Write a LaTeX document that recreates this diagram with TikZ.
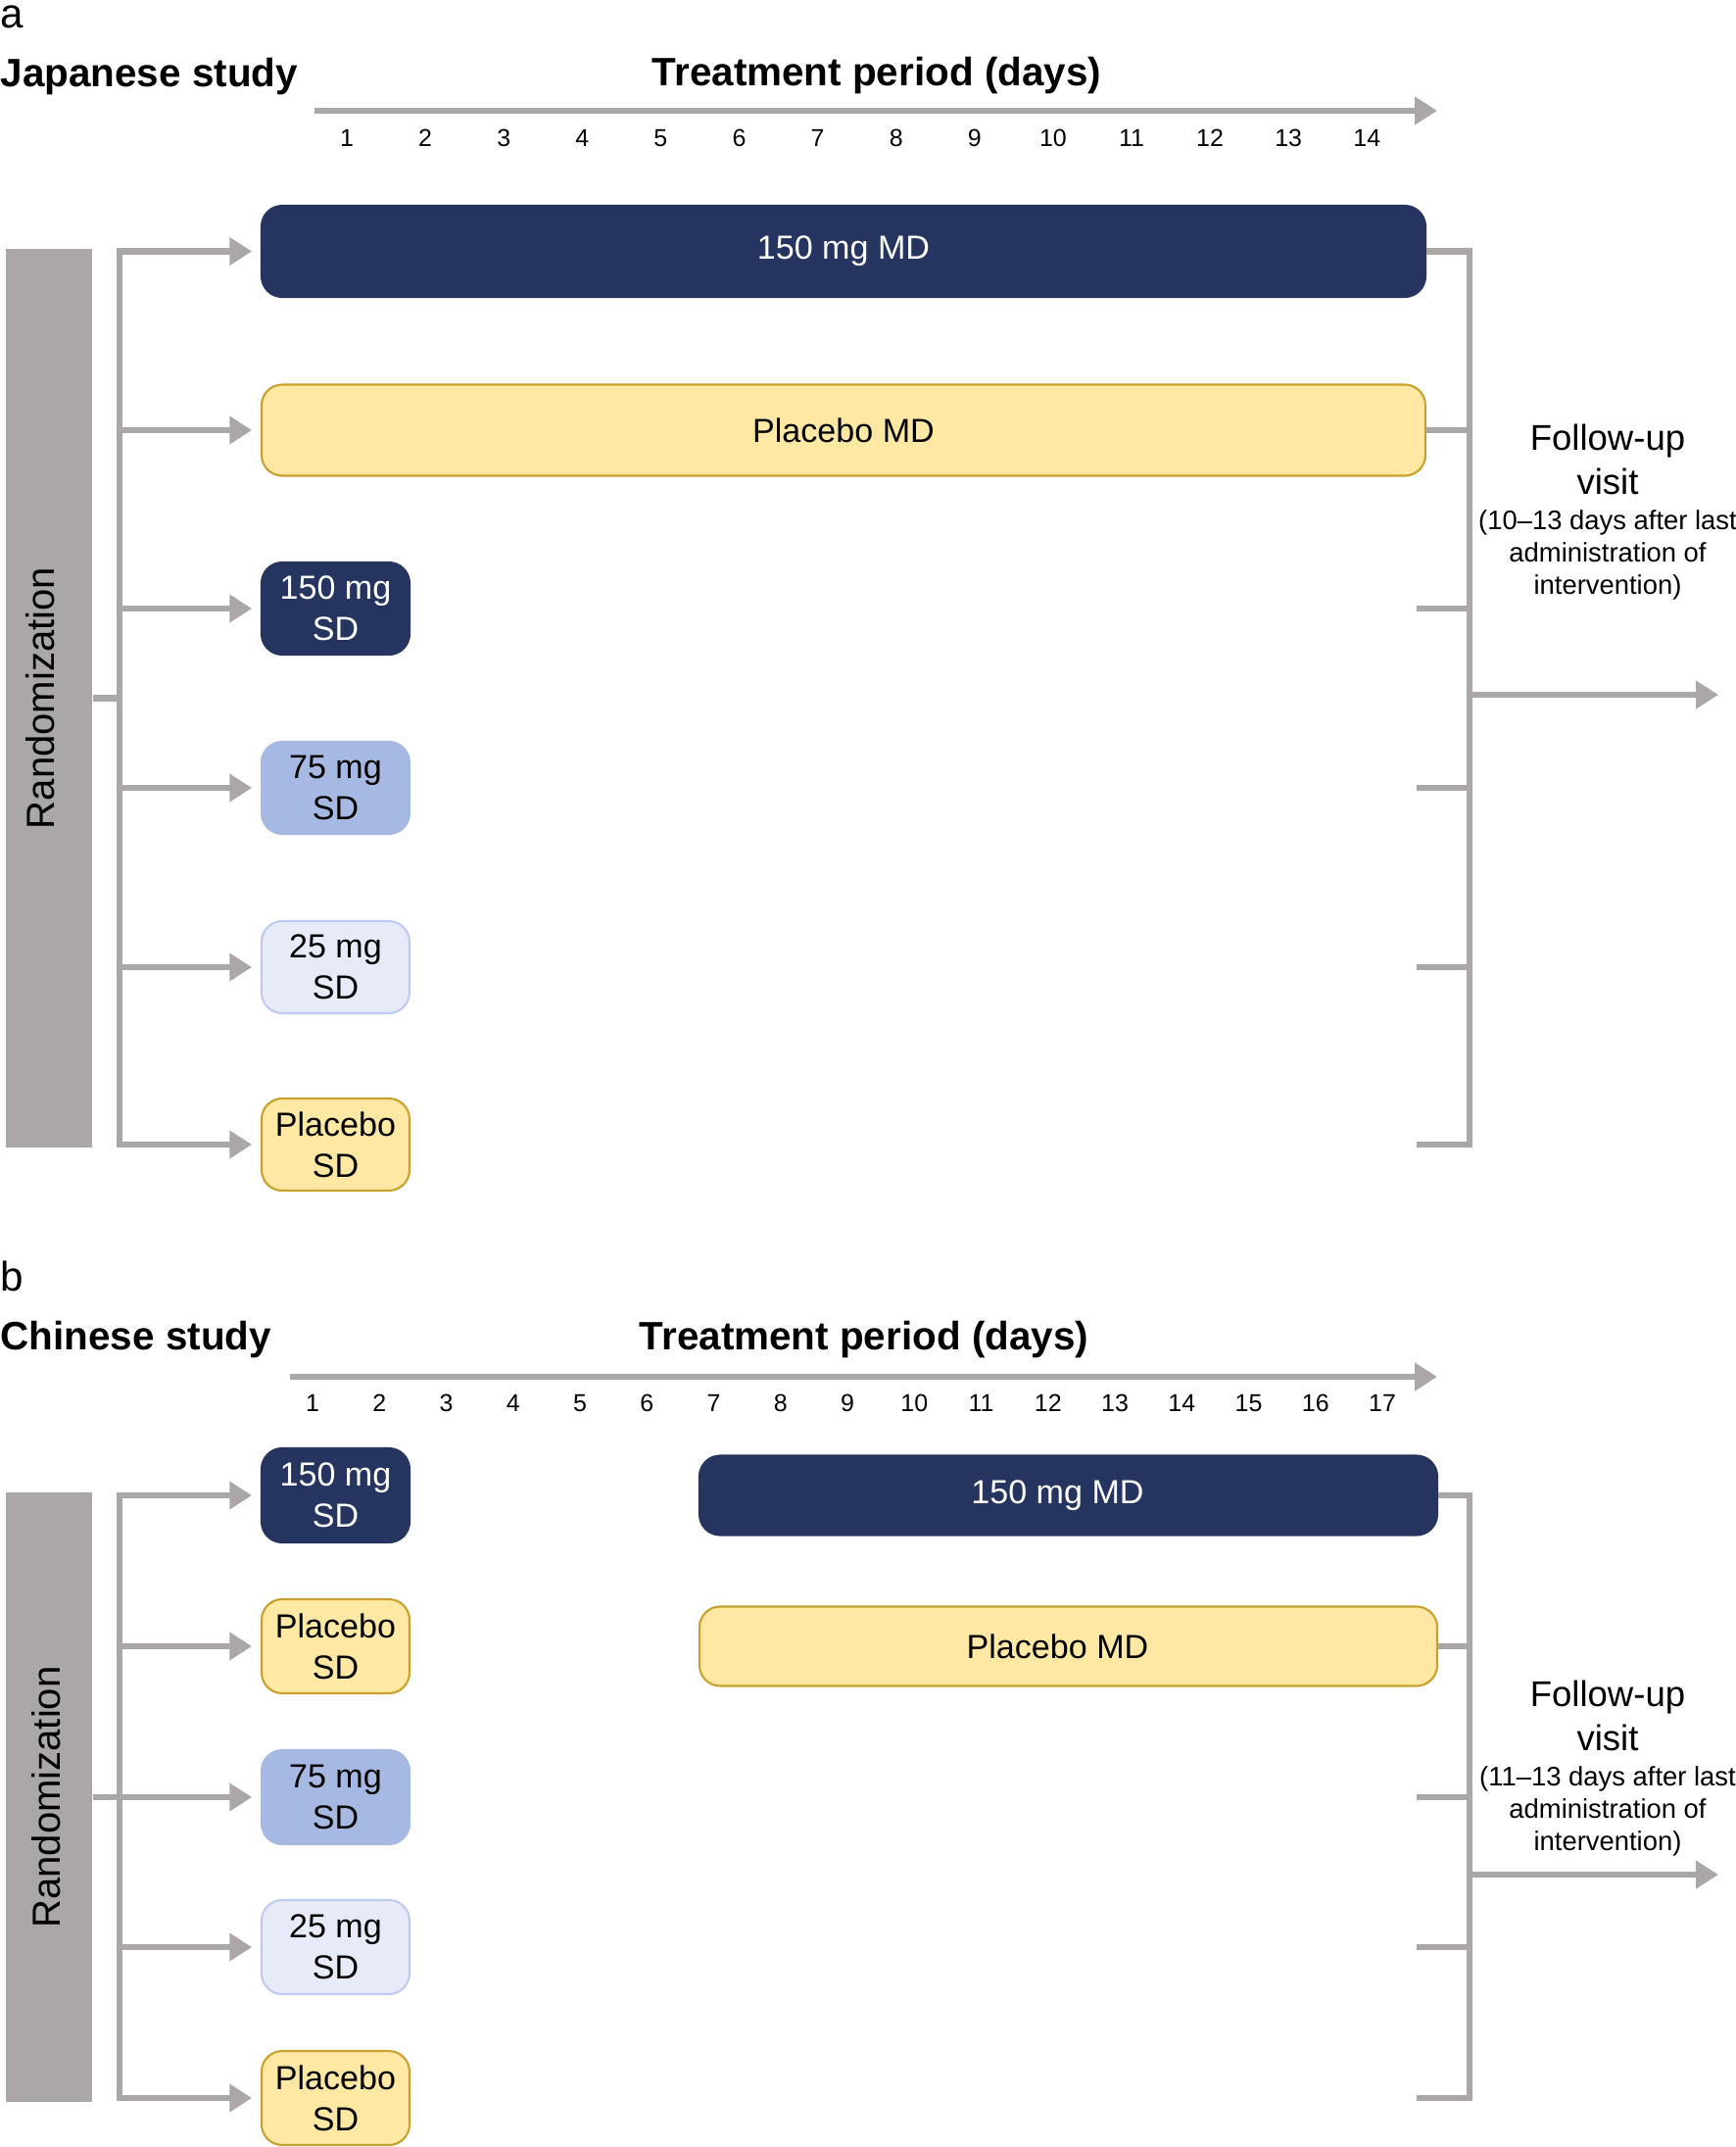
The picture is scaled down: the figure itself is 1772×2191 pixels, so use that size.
\documentclass[tikz,border=0pt]{standalone}
\usepackage{fontspec}
\setmainfont{Liberation Sans}
\usetikzlibrary{arrows.meta}
\definecolor{navy}{RGB}{37,53,96}
\definecolor{pbofill}{RGB}{255,232,163}
\definecolor{pbodraw}{RGB}{201,160,45}
\definecolor{midblue}{RGB}{166,185,227}
\definecolor{paleblue}{RGB}{231,235,248}
\definecolor{paledraw}{RGB}{190,202,240}
\definecolor{rgray}{RGB}{171,167,166}
\begin{document}
\begin{tikzpicture}[x=0.1mm, y=-0.1mm,
    gline/.style={draw=rgray, line width=1.9pt},
    garrow/.style={gline, -{Triangle[length=6.5pt,width=7.8pt]}},
    tobox/.style={garrow, shorten >=2.5pt},
    box/.style={rounded corners=6pt, inner sep=0pt, align=center,
      font=\fontsize{9.7}{12}\selectfont, line width=0.6pt},
    navybox/.style={box, fill=navy, draw=navy, text=white},
    pbobox/.style={box, fill=pbofill, draw=pbodraw},
    midbox/.style={box, fill=midblue, draw=midblue},
    palebox/.style={box, fill=paleblue, draw=paledraw},
    sdbox/.style={minimum width=1.51cm, minimum height=0.94cm},
    rand/.style={rotate=90, fill=rgray, minimum height=0.88cm,
      font=\fontsize{11.4}{13}\selectfont},
    day/.style={anchor=base, inner sep=0pt, font=\fontsize{7.1}{8}\selectfont},
    period/.style={anchor=base, inner sep=0pt, font=\fontsize{11.5}{13}\selectfont\bfseries},
    study/.style={anchor=base west, inner sep=0pt, font=\fontsize{11.5}{13}\selectfont\bfseries},
    panel/.style={anchor=base west, inner sep=0pt, font=\fontsize{12}{14}\selectfont},
    fu/.style={align=center, inner sep=0pt, font=\fontsize{10.4}{12.8}\selectfont},
    funote/.style={align=center, inner sep=0pt, font=\fontsize{7.8}{9.4}\selectfont}]
  \useasboundingbox (0,0) rectangle (1772,2191);

  % panel a: Japanese study
  \node[panel] (alabel) at (0,28) {a};
  \node[study] (astudy) at (0,88) {Japanese study};
  \node[period] (aperiod) at (895,87) {Treatment period (days)};
  \coordinate (aaxis) at (321,113);
  \coordinate (aaxisend) at (1467,113);
  \draw[garrow] (aaxis) -- (aaxisend);
  \foreach \d in {1,...,14}
    \node[day] (aday\d) at ({354+(\d-1)*80.1},149) {\d};

  \node[rand, minimum width=9.17cm, text depth=5pt] (arand) at (50,712.5) {Randomization};
  \node[navybox, minimum width=11.88cm, minimum height=0.93cm] (amd150) at (861,256.5) {150 mg MD};
  \node[pbobox, minimum width=11.88cm, minimum height=0.93cm] (apbomd) at (861,439) {Placebo MD};
  \node[navybox, sdbox] (asd150) at (342.5,621) {150 mg\\SD};
  \node[midbox, sdbox] (asd75) at (342.5,804) {75 mg\\SD};
  \node[palebox, sdbox] (asd25) at (342.5,987) {25 mg\\SD};
  \node[pbobox, sdbox] (apbosd) at (342.5,1168) {Placebo\\SD};

  \coordinate (aspine) at (122,256.5);
  \coordinate (aspineend) at (122,1168);
  \draw[gline, line cap=rect] (aspine) -- (aspineend);
  \draw[gline] (arand.south) -- (aspine |- arand.south);
  \draw[tobox] (aspine |- amd150) -- (amd150.west);
  \draw[tobox] (aspine |- apbomd) -- (apbomd.west);
  \draw[tobox] (aspine |- asd150) -- (asd150.west);
  \draw[tobox] (aspine |- asd75) -- (asd75.west);
  \draw[tobox] (aspine |- asd25) -- (asd25.west);
  \draw[tobox] (aspine |- apbosd) -- (apbosd.west);

  \coordinate (arspine) at (1500,256.5);
  \coordinate (arspineend) at (1500,1168);
  \coordinate (astub) at (1446,0);
  \draw[gline, line cap=rect] (arspine) -- (arspineend);
  \draw[gline] (amd150.east) -- (arspine |- amd150);
  \draw[gline] (apbomd.east) -- (arspine |- apbomd);
  \draw[gline] (astub |- asd150) -- (arspine |- asd150);
  \draw[gline] (astub |- asd75) -- (arspine |- asd75);
  \draw[gline] (astub |- asd25) -- (arspine |- asd25);
  \draw[gline] (astub |- apbosd) -- (arspine |- apbosd);
  \coordinate (afuend) at (1754,709);
  \draw[garrow] (arspine |- afuend) -- (afuend);
  \node[fu] (afu) at (1641,469) {Follow-up\\visit};
  \node[funote] (afunote) at (1641,566) {(10--13 days after last\\administration of\\intervention)};

  % panel b: Chinese study
  \node[panel] (blabel) at (0,1317) {b};
  \node[study] (bstudy) at (0,1377) {Chinese study};
  \node[period] (bperiod) at (882,1377) {Treatment period (days)};
  \coordinate (baxis) at (296,1405);
  \coordinate (baxisend) at (1467,1405);
  \draw[garrow] (baxis) -- (baxisend);
  \foreach \d in {1,...,17}
    \node[day] (bday\d) at ({319+(\d-1)*68.25},1440) {\d};

  \node[rand, minimum width=6.22cm, text depth=1.6pt] (brand) at (50,1834) {Randomization};
  \node[navybox, sdbox, minimum height=0.96cm] (bsd150) at (342.5,1526) {150 mg\\SD};
  \node[pbobox, sdbox, minimum height=0.96cm] (bpbosd) at (342.5,1680) {Placebo\\SD};
  \node[midbox, sdbox, minimum height=0.96cm] (bsd75) at (342.5,1834) {75 mg\\SD};
  \node[palebox, sdbox, minimum height=0.96cm] (bsd25) at (342.5,1987) {25 mg\\SD};
  \node[pbobox, sdbox, minimum height=0.96cm] (bpbosdb) at (342.5,2141) {Placebo\\SD};
  \node[navybox, minimum width=7.53cm, minimum height=0.81cm] (bmd150) at (1090.5,1526) {150 mg MD\hspace*{0.22cm}};
  \node[pbobox, minimum width=7.53cm, minimum height=0.81cm] (bpbomd) at (1090.5,1680) {Placebo MD\hspace*{0.22cm}};

  \coordinate (bspine) at (122,1526);
  \coordinate (bspineend) at (122,2141);
  \draw[gline, line cap=rect] (bspine) -- (bspineend);
  \draw[gline] (brand.south) -- (bspine |- brand.south);
  \draw[tobox] (bspine |- bsd150) -- (bsd150.west);
  \draw[tobox] (bspine |- bpbosd) -- (bpbosd.west);
  \draw[tobox] (bspine |- bsd75) -- (bsd75.west);
  \draw[tobox] (bspine |- bsd25) -- (bsd25.west);
  \draw[tobox] (bspine |- bpbosdb) -- (bpbosdb.west);

  \coordinate (brspine) at (1500,1526);
  \coordinate (brspineend) at (1500,2141);
  \coordinate (bstub) at (1446,0);
  \draw[gline, line cap=rect] (brspine) -- (brspineend);
  \draw[gline] (bmd150.east) -- (brspine |- bmd150);
  \draw[gline] (bpbomd.east) -- (brspine |- bpbomd);
  \draw[gline] (bstub |- bsd75) -- (brspine |- bsd75);
  \draw[gline] (bstub |- bsd25) -- (brspine |- bsd25);
  \draw[gline] (bstub |- bpbosdb) -- (brspine |- bpbosdb);
  \coordinate (bfuend) at (1754,1913);
  \draw[garrow] (brspine |- bfuend) -- (bfuend);
  \node[fu] (bfu) at (1641,1751) {Follow-up\\visit};
  \node[funote] (bfunote) at (1641,1848) {(11--13 days after last\\administration of\\intervention)};
\end{tikzpicture}
\end{document}
